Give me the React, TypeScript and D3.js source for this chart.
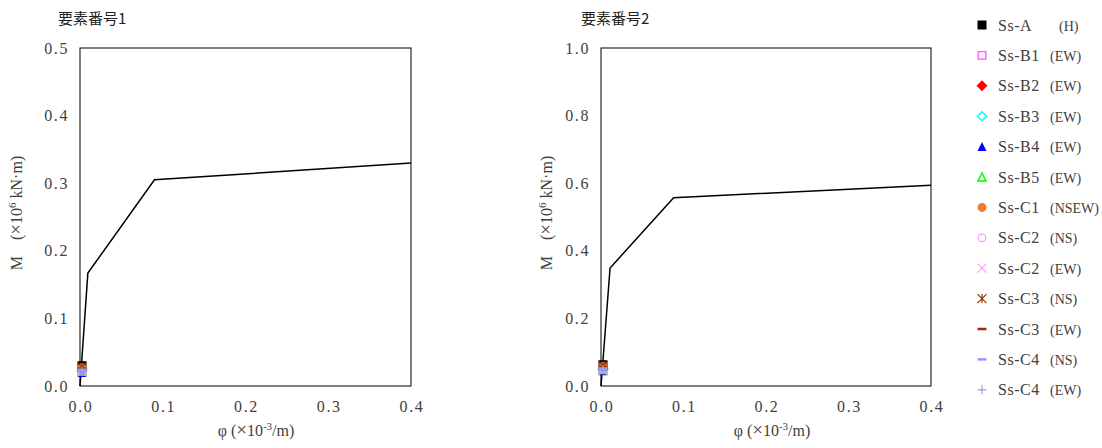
import React from "react";
import * as d3 from "d3";

const seriesNames = ["Ss-A", "Ss-B1", "Ss-B2", "Ss-B3", "Ss-B4", "Ss-B5", "Ss-C1", "Ss-C2", "Ss-C2", "Ss-C3", "Ss-C3", "Ss-C4", "Ss-C4"];
const seriesDirs = ["(H)", "(EW)", "(EW)", "(EW)", "(EW)", "(EW)", "(NSEW)", "(NS)", "(EW)", "(NS)", "(EW)", "(NS)", "(EW)"];
const seriesMarkers = ["squareFill", "squareOpen", "diamondFill", "diamondOpen", "triFill", "triOpen", "circleFill", "circleOpen", "cross", "star", "dash", "dash", "plus"];
const seriesColors = ["#000000", "#FF66FF", "#FF0000", "#00FFFF", "#0000FF", "#00FF00", "#ED7D31", "#FF99FF", "#FF99FF", "#993300", "#993300", "#9999FF", "#9999FF"];

const pointX = [0.0024, 0.0024, 0.0024, 0.0024, 0.0024, 0.0024, 0.0024, 0.0024, 0.0024, 0.0024, 0.0024, 0.0024, 0.0024];
const elem1Y = [0.030, 0.022, 0.024, 0.022, 0.020, 0.022, 0.027, 0.023, 0.021, 0.028, 0.026, 0.024, 0.022];
const elem2Y = [0.063, 0.048, 0.052, 0.047, 0.045, 0.049, 0.058, 0.050, 0.046, 0.060, 0.057, 0.052, 0.048];

const curve1X = [0, 0.0095, 0.09, 0.4];
const curve1Y = [0, 0.167, 0.305, 0.33];
const curve2X = [0, 0.011, 0.088, 0.4];
const curve2Y = [0, 0.349, 0.557, 0.594];

const xTicks = [0, 0.1, 0.2, 0.3, 0.4];
const yTicks1 = [0, 0.1, 0.2, 0.3, 0.4, 0.5];
const yTicks2 = [0, 0.2, 0.4, 0.6, 0.8, 1.0];

const titles = ["要素番号1", "要素番号2"];

const FONT = "'Liberation Serif', 'DejaVu Serif', serif";
const CJK = "'Noto Sans CJK JP', sans-serif";
const TXT = "#404040";

function Marker({ type, color, x, y, s }: { type: string; color: string; x: number; y: number; s: number }) {
  const h = s / 2;
  switch (type) {
    case "squareFill":
      return <rect x={x - h} y={y - h} width={s} height={s} fill={color} />;
    case "squareOpen":
      return <rect x={x - h + 0.75} y={y - h + 0.75} width={s - 1.5} height={s - 1.5} fill="none" stroke={color} strokeWidth={1.5} />;
    case "diamondFill":
      return <path d={`M${x},${y - h - 1}L${x + h + 1},${y}L${x},${y + h + 1}L${x - h - 1},${y}Z`} fill={color} />;
    case "diamondOpen":
      return <path d={`M${x},${y - h}L${x + h},${y}L${x},${y + h}L${x - h},${y}Z`} fill="none" stroke={color} strokeWidth={1.5} />;
    case "triFill":
      return <path d={`M${x},${y - h}L${x + h},${y + h}L${x - h},${y + h}Z`} fill={color} />;
    case "triOpen":
      return <path d={`M${x},${y - h + 0.5}L${x + h - 0.5},${y + h - 0.5}L${x - h + 0.5},${y + h - 0.5}Z`} fill="none" stroke={color} strokeWidth={1.5} />;
    case "circleFill":
      return <circle cx={x} cy={y} r={h} fill={color} />;
    case "circleOpen":
      return <circle cx={x} cy={y} r={h - 0.75} fill="none" stroke={color} strokeWidth={1.2} />;
    case "cross":
      return <path d={`M${x - h},${y - h}L${x + h},${y + h}M${x - h},${y + h}L${x + h},${y - h}`} stroke={color} strokeWidth={1.2} />;
    case "star":
      return <path d={`M${x - h},${y - h}L${x + h},${y + h}M${x - h},${y + h}L${x + h},${y - h}M${x},${y - h}L${x},${y + h}`} stroke={color} strokeWidth={1.2} />;
    case "dash":
      return <path d={`M${x - h},${y}L${x + h},${y}`} stroke={color} strokeWidth={2.5} />;
    case "plus":
      return <path d={`M${x - h},${y}L${x + h},${y}M${x},${y - h}L${x},${y + h}`} stroke={color} strokeWidth={1.2} />;
    default:
      return null;
  }
}

function Panel({ left, right, top, bottom, yMax, yTicks, cx, cy, py, title, titleX, ylabelX, xlabelX }: any) {
  const x = d3.scaleLinear().domain([0, 0.4]).range([left, right]);
  const y = d3.scaleLinear().domain([0, yMax]).range([bottom, top]);
  const line = d3.line<number>().x((_, i) => x(cx[i])).y((d) => y(d));
  return (
    <g>
      <text x={titleX} y={24} fontFamily={CJK} fontSize={15} fill="#222">{title}</text>
      <rect x={left} y={top} width={right - left} height={bottom - top} fill="none" stroke="#000" strokeWidth={1} />
      {yTicks.map((t: number) => (
        <text key={"y" + t} x={left - 11} y={y(t) + 5.5} textAnchor="end" fontFamily={FONT} fontSize={16} letterSpacing={1.6} fill={TXT}>{t.toFixed(1)}</text>
      ))}
      {xTicks.map((t: number) => (
        <text key={"x" + t} x={x(t) + 1} y={bottom + 26} textAnchor="middle" fontFamily={FONT} fontSize={16} letterSpacing={1.6} fill={TXT}>{t.toFixed(1)}</text>
      ))}
      <path d={line(cy) || ""} fill="none" stroke="#000" strokeWidth={1.5} />
      {py.map((v: number, i: number) => (
        <Marker key={i} type={seriesMarkers[i]} color={seriesColors[i]} x={x(pointX[i])} y={y(v)} s={9} />
      ))}
      <text transform={`translate(${ylabelX},${(top + bottom) / 2 - 4}) rotate(-90)`} textAnchor="middle" fontFamily={FONT} fontSize={16} fill={TXT}>
        M　(<tspan fontSize={19}>×</tspan>10<tspan fontSize={11} dy={-6}>6</tspan><tspan dy={6}> kN·m)</tspan>
      </text>
      <text x={xlabelX} y={bottom + 50} textAnchor="middle" fontFamily={FONT} fontSize={16} fill={TXT}>
        φ (<tspan fontSize={19}>×</tspan>10<tspan fontSize={11} dy={-6}>-3</tspan><tspan dy={6}>/m)</tspan>
      </text>
    </g>
  );
}

export default function App() {
  return (
    <svg width={1102} height={448} style={{ position: "absolute", left: 0, top: 0, background: "#fff" }}>
      <Panel left={80} right={411} top={48} bottom={386} yMax={0.5} yTicks={yTicks1} cx={curve1X} cy={curve1Y} py={elem1Y} title={titles[0]} titleX={58} ylabelX={22} xlabelX={256} />
      <Panel left={601} right={931} top={48} bottom={386} yMax={1.0} yTicks={yTicks2} cx={curve2X} cy={curve2Y} py={elem2Y} title={titles[1]} titleX={581} ylabelX={552} xlabelX={772} />
      {seriesNames.map((n, i) => {
        const yy = 25 + i * 30.4;
        const dir = seriesDirs[i];
        const dx = dir === "(H)" ? 1059 : 1050;
        return (
          <g key={i}>
            <Marker type={seriesMarkers[i]} color={seriesColors[i]} x={982} y={yy} s={9} />
            <text x={998} y={yy + 5.5} fontFamily={FONT} fontSize={16} letterSpacing={0.5} fill={TXT}>{n}</text>
            <text x={dx} y={yy + 5.5} fontFamily={FONT} fontSize={14} fill={TXT}>{dir}</text>
          </g>
        );
      })}
    </svg>
  );
}
